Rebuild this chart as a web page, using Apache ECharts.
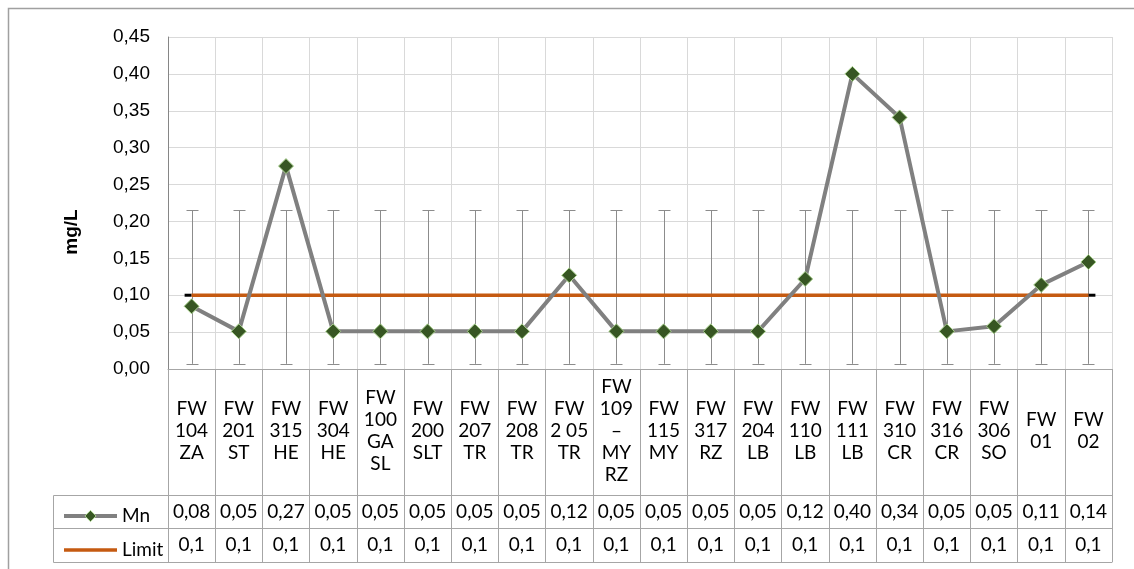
<!DOCTYPE html>
<html><head><meta charset="utf-8">
<script src="https://cdn.jsdelivr.net/npm/echarts@6/dist/echarts.min.js"></script>
<style>html,body{margin:0;padding:0;background:#fff}#c{width:1134px;height:569px}</style>
</head><body><div id="c"></div>
<script>
const categories = ['FW\n104\nZA','FW\n201\nST','FW\n315\nHE','FW\n304\nHE','FW\n100\nGA\nSL','FW\n200\nSLT','FW\n207\nTR','FW\n208\nTR','FW\n2 05\nTR','FW\n109\n–\nMY\nRZ','FW\n115\nMY','FW\n317\nRZ','FW\n204\nLB','FW\n110\nLB','FW\n111\nLB','FW\n310\nCR','FW\n316\nCR','FW\n306\nSO','FW\n01','FW\n02'];
const mnValues = [0.085,0.051,0.275,0.051,0.051,0.051,0.051,0.051,0.127,0.051,0.051,0.051,0.051,0.122,0.400,0.341,0.051,0.058,0.114,0.145];
const limitValues = [0.1,0.1,0.1,0.1,0.1,0.1,0.1,0.1,0.1,0.1,0.1,0.1,0.1,0.1,0.1,0.1,0.1,0.1,0.1,0.1];
const mnTable = ['0,08','0,05','0,27','0,05','0,05','0,05','0,05','0,05','0,12','0,05','0,05','0,05','0,05','0,12','0,40','0,34','0,05','0,05','0,11','0,14'];
const limitTable = ['0,1','0,1','0,1','0,1','0,1','0,1','0,1','0,1','0,1','0,1','0,1','0,1','0,1','0,1','0,1','0,1','0,1','0,1','0,1','0,1'];
const errLow = 0.007, errHigh = 0.215;
const yMin = 0, yMax = 0.45, yStep = 0.05;

const chart = echarts.init(document.getElementById('c'));
const tableFont = 'Lato, "Noto Sans", sans-serif';
const border = '#a6a6a6';
function tableAxis(data, offset, tick, margin, showLabel){
  return {type:'category', gridIndex:0, position:'bottom', offset:offset, data:data,
    boundaryGap:true,
    axisLine:{show:true, lineStyle:{color:border, width:1}},
    axisTick:{show:tick>0, interval:0, length:tick, lineStyle:{color:border, width:1}},
    axisLabel:{show:showLabel, interval:0, margin:margin, verticalAlign:'middle', fontSize:19, lineHeight:22, color:'#000', fontFamily:tableFont},
    splitLine:{show:false}};
}
const xAxes = [
  Object.assign(tableAxis(categories, 0, 126, 62, true), {splitLine:{show:true, interval:0, lineStyle:{color:'#d9d9d9'}}}),
  tableAxis(mnTable, 126, 33, 17, true),
  tableAxis(limitTable, 159, 34, 17, true),
  tableAxis(categories, 193, 0, 0, false)
];
chart.setOption({
  animation:false,
  grid:{left:168, right:22, top:37, bottom:200},
  xAxis:xAxes,
  yAxis:{type:'value', min:yMin, max:yMax, interval:yStep,
    axisLine:{show:true, lineStyle:{color:'#868686'}},
    axisTick:{show:false},
    axisLabel:{margin:18, fontSize:19, color:'#000', fontFamily:'"Liberation Sans", Arial, sans-serif',
      formatter:v=>v.toFixed(2).replace('.',',')},
    splitLine:{show:true, lineStyle:{color:'#d9d9d9'}}},
  legend:{orient:'vertical', left:57, top:501, itemWidth:53, itemHeight:14, itemGap:14,
    textStyle:{fontSize:19, lineHeight:20, color:'#000', fontFamily:tableFont},
    data:[
      {name:'Mn', lineStyle:{color:'#808080', width:4}, itemStyle:{color:'#375623', borderColor:'#a9d18e', borderWidth:1}},
      {name:'Limit', icon:'path://M0,0H60V4H0Z'}
    ]},
  graphic:[
    {type:'rect', shape:{x:8.5, y:8.5, width:1140, height:600}, style:{fill:'none', stroke:'#a0a0a0', lineWidth:1.5}, silent:true},
    {type:'polyline', shape:{points:[[168,495.5],[53.5,495.5],[53.5,562.5],[168,562.5]]}, style:{fill:'none', stroke:border, lineWidth:1}, silent:true},
    {type:'line', shape:{x1:53.5, y1:528.5, x2:168, y2:528.5}, style:{stroke:border, lineWidth:1}, silent:true},
    {type:'text', x:72, y:232, rotation:Math.PI/2, style:{text:'mg/L', font:'bold 19px "Liberation Sans", Arial, sans-serif', fill:'#000', align:'center', verticalAlign:'middle'}, silent:true}
  ],
  series:[
    {type:'custom', name:'err', xAxisIndex:0, z:1,
      data:categories.map((c,i)=>[i, errLow, errHigh]),
      renderItem:function(params, api){
        const lo = api.coord([api.value(0), api.value(1)]);
        const hi = api.coord([api.value(0), api.value(2)]);
        const x = Math.round(lo[0])+0.5, w = 6;
        const st = {stroke:'#8c8c8c', lineWidth:1};
        return {type:'group', children:[
          {type:'line', shape:{x1:x, y1:hi[1], x2:x, y2:lo[1]}, style:st},
          {type:'line', shape:{x1:x-w, y1:Math.round(hi[1])+0.5, x2:x+w, y2:Math.round(hi[1])+0.5}, style:st},
          {type:'line', shape:{x1:x-w, y1:Math.round(lo[1])+0.5, x2:x+w, y2:Math.round(lo[1])+0.5}, style:st}
        ]};
      }},
    {type:'custom', name:'limitEnds', xAxisIndex:0, z:2,
      data:[[0, limitValues[0], -1],[limitValues.length-1, limitValues[limitValues.length-1], 1]],
      renderItem:function(params, api){
        const p = api.coord([api.value(0), api.value(1)]);
        const d = api.value(2);
        return {type:'line', shape:{x1:p[0], y1:p[1], x2:p[0]+d*7, y2:p[1]}, style:{stroke:'#000', lineWidth:3}};
      }},
    {type:'line', name:'Limit', data:limitValues, xAxisIndex:0, z:3, symbol:'none',
      color:'#c55a11', lineStyle:{color:'#c55a11', width:3.5}},
    {type:'line', name:'Mn', data:mnValues, xAxisIndex:0, z:4, symbol:'diamond', symbolSize:15,
      color:'#375623',
      itemStyle:{color:'#375623', borderColor:'#a9d18e', borderWidth:1},
      lineStyle:{color:'#808080', width:4}}
  ]
});
</script></body></html>
